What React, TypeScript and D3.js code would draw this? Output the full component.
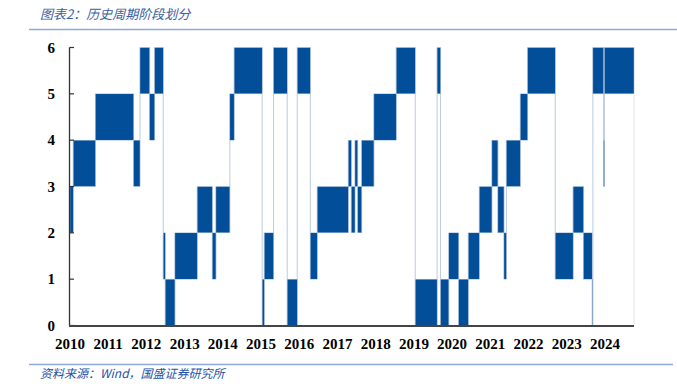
import React from "react";
import * as d3 from "d3";

const stageStarts = [
  "2010-01-01", "2010-02-01", "2010-09-01", "2011-09-01", "2011-11-01",
  "2012-02-01", "2012-03-20", "2012-06-10", "2012-06-29", "2012-09-30",
  "2013-05-01", "2013-09-22", "2013-10-27", "2014-03-09", "2014-04-19",
  "2015-01-12", "2015-02-01", "2015-05-01", "2015-09-08", "2015-12-13",
  "2016-04-16", "2016-06-21", "2017-04-14", "2017-05-13", "2017-06-17",
  "2017-07-13", "2017-08-20", "2017-12-15", "2018-07-16", "2019-01-14",
  "2019-08-11", "2019-09-13", "2019-12-01", "2020-03-04", "2020-06-04",
  "2020-09-17", "2021-01-16", "2021-03-14", "2021-05-11", "2021-06-03",
  "2021-10-14", "2021-12-23", "2022-09-13", "2023-03-03", "2023-06-10",
  "2023-09-01", "2023-09-08", "2023-12-19", "2023-12-27",
];
const stageValues = [
  3, 4, 5, 4, 6,
  5, 6, 2, 1, 2,
  3, 2, 3, 5, 6,
  1, 2, 6, 1, 6,
  2, 3, 4, 3, 4,
  3, 4, 5, 6, 1,
  6, 1, 2, 1, 2,
  3, 4, 3, 2, 4,
  5, 6, 2, 3, 2,
  1, 6, 4, 6,
];
const endDate = "2024-10-05";
const yearLabels = ["2010", "2011", "2012", "2013", "2014", "2015", "2016", "2017", "2018", "2019", "2020", "2021", "2022", "2023", "2024"];
const yTicks = [0, 1, 2, 3, 4, 5, 6];

const title = "图表2：历史周期阶段划分";
const source = "资料来源：Wind，国盛证券研究所";

export default function App() {
  const W = 677, H = 390;
  const parse = d3.timeParse("%Y-%m-%d");
  const x = d3.scaleTime().domain([parse("2010-01-01")!, parse(endDate)!]).range([70, 634]);
  const y = d3.scaleLinear().domain([0, 6]).range([325.5, 47.5]);

  const segs = stageValues.map((v, i) => {
    const s = parse(stageStarts[i])!;
    const e = parse(i + 1 < stageStarts.length ? stageStarts[i + 1] : endDate)!;
    return { v, x0: x(s), x1: x(e) };
  });

  const transitions = segs.slice(1).map((sg, i) => {
    const prev = segs[i];
    const lo = Math.min(prev.v, sg.v) - 1;
    const hi = Math.max(prev.v, sg.v);
    return { x: sg.x0, lo, hi };
  });

  const blue = "#034e98";
  const serifBold = "'Liberation Serif', 'Times New Roman', serif";
  const xEnd = x(parse(endDate)!);

  return (
    <svg width={W} height={H} style={{ display: "block", position: "absolute", left: 0, top: 0, background: "#fff" }}>
      <rect x={0} y={0} width={W} height={H} fill="#fff" />
      <text x={40} y={19} fontSize={13} fontStyle="italic" fill="#3a5ea3"
        fontFamily="'Noto Sans CJK SC', sans-serif">{title}</text>
      <line x1={29} x2={W} y1={29.5} y2={29.5} stroke="#8eaad6" strokeWidth={1.5} />

      {transitions.map((t, i) => (
        <line key={"t" + i} x1={t.x} x2={t.x} y1={y(t.lo)} y2={y(t.hi)} stroke="#bccbe0" strokeWidth={1} />
      ))}
      <line x1={xEnd} x2={xEnd} y1={y(6)} y2={y(0)} stroke="#dde6f2" strokeWidth={1} />
      {segs.map((s, i) => (
        <rect key={"s" + i} x={s.x0} width={Math.max(0.5, s.x1 - s.x0)} y={y(s.v)} height={y(s.v - 1) - y(s.v)}
          fill={blue} stroke="#c3d2e6" strokeWidth={0.4} />
      ))}

      <line x1={69.5} x2={69.5} y1={y(6)} y2={y(0)} stroke="#333" strokeWidth={1.3} />
      {yTicks.map((t) => (
        <g key={"y" + t}>
          <line x1={69.5} x2={74} y1={y(t)} y2={y(t)} stroke="#333" strokeWidth={1.2} />
          <text x={55} y={y(t)} dy="0.35em" textAnchor="end" fontSize={15} fontWeight="bold" fontFamily={serifBold} fill="#000">{t}</text>
        </g>
      ))}
      <line x1={69} x2={634} y1={326} y2={326} stroke="#444" strokeWidth={2} />
      {yearLabels.map((yl) => (
        <text key={yl} x={x(parse(yl + "-01-01")!)} y={349} textAnchor="middle" fontSize={15} fontWeight="bold" fontFamily={serifBold} fill="#000">{yl}</text>
      ))}

      <line x1={29} x2={673} y1={364.5} y2={364.5} stroke="#8eaad6" strokeWidth={1.5} />
      <text x={40} y={378} fontSize={12} fontStyle="italic" fill="#2452a8"
        fontFamily="'Noto Sans CJK SC', sans-serif">{source}</text>
    </svg>
  );
}
